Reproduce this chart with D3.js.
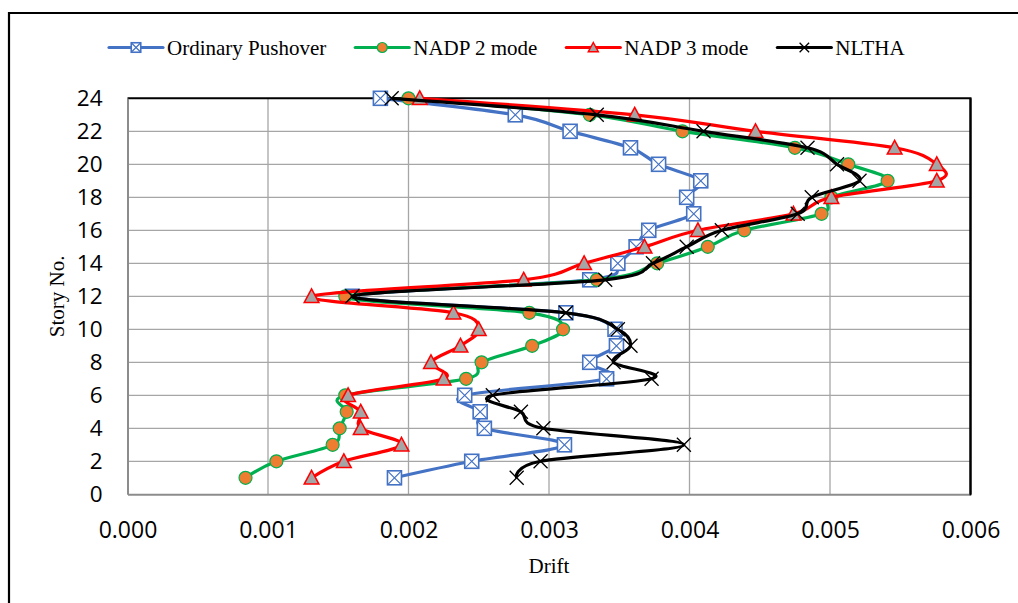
<!DOCTYPE html>
<html>
<head>
<meta charset="utf-8">
<script src="https://cdn.jsdelivr.net/npm/d3@7"></script>
<style>
  html, body { margin: 0; padding: 0; background: #fff; }
  svg { display: block; }
</style>
</head>
<body>
<svg id="chart" width="1018" height="603"></svg>
<script>
// Story numbers (1 to 24) and interstory drift for each analysis method
const stories = [1, 2, 3, 4, 5, 6, 7, 8, 9, 10, 11, 12, 13, 14, 15, 16, 17, 18, 19, 20, 21, 22, 23, 24];

const ordinaryPushover = [0.00190, 0.00245, 0.00311, 0.00254, 0.00251, 0.00240, 0.00341, 0.00329, 0.00348, 0.00347, 0.00312, 0.00160,
                          0.00329, 0.00349, 0.00362, 0.00371, 0.00403, 0.00398, 0.00408, 0.00378, 0.00358, 0.00315, 0.00276, 0.00180];

const nadp2Mode = [0.00084, 0.00106, 0.00146, 0.00151, 0.00156, 0.00155, 0.00241, 0.00252, 0.00288, 0.00310, 0.00286, 0.00155,
                   0.00334, 0.00377, 0.00413, 0.00439, 0.00494, 0.00501, 0.00541, 0.00513, 0.00475, 0.00395, 0.00329, 0.00200];

const nadp3Mode = [0.00131, 0.00154, 0.00195, 0.00166, 0.00166, 0.00157, 0.00225, 0.00216, 0.00237, 0.00250, 0.00232, 0.00131,
                   0.00282, 0.00325, 0.00368, 0.00406, 0.00474, 0.00501, 0.00576, 0.00576, 0.00546, 0.00447, 0.00361, 0.00208];

const nltha = [0.00277, 0.00294, 0.00396, 0.00296, 0.00280, 0.00260, 0.00373, 0.00346, 0.00358, 0.00349, 0.00312, 0.00160,
               0.00340, 0.00374, 0.00398, 0.00423, 0.00477, 0.00487, 0.00521, 0.00505, 0.00484, 0.00410, 0.00334, 0.00188];

const seriesNames = ["Ordinary Pushover", "NADP 2 mode", "NADP 3 mode", "NLTHA"];
const xTicks = [0, 0.001, 0.002, 0.003, 0.004, 0.005, 0.006];
const yTicks = [0, 2, 4, 6, 8, 10, 12, 14, 16, 18, 20, 22, 24];

// Visual style per series
const styles = [
  { line: "#4472C4", marker: "squareX" },
  { line: "#00B050", marker: "circle" },
  { line: "#FF0000", marker: "triangle" },
  { line: "#000000", marker: "cross" }
];

const series = [ordinaryPushover, nadp2Mode, nadp3Mode, nltha].map((vals, i) => ({
  name: seriesNames[i],
  style: styles[i],
  points: stories.map((s, j) => ({ story: s, drift: vals[j] }))
}));

const svg = d3.select("#chart");
const W = 1018, H = 603;
const plot = { left: 127.5, right: 970.5, top: 98.3, bottom: 494.3 };

const x = d3.scaleLinear().domain([0, 0.006]).range([plot.left, plot.right]);
const y = d3.scaleLinear().domain([0, 24]).range([plot.bottom, plot.top]);

// Outer chart frame (left and top edges)
svg.append("path")
  .attr("d", `M9,${H} V13 H${W}`)
  .attr("fill", "none").attr("stroke", "#000").attr("stroke-width", 2.2);

// Gridlines
const grid = svg.append("g");
grid.selectAll("line.h").data(yTicks.slice(1, -1)).join("line")
  .attr("x1", plot.left).attr("x2", plot.right)
  .attr("y1", d => y(d)).attr("y2", d => y(d))
  .attr("stroke", "#A6A6A6").attr("stroke-width", 1.3);
grid.selectAll("line.v").data(xTicks.slice(1, -1)).join("line")
  .attr("y1", plot.top).attr("y2", plot.bottom)
  .attr("x1", d => x(d)).attr("x2", d => x(d))
  .attr("stroke", "#A6A6A6").attr("stroke-width", 1.3);

// Plot area border: black top/right, grey axes left/bottom
svg.append("path")
  .attr("d", `M${plot.left},${plot.top} H${plot.right} V${plot.bottom}`)
  .attr("fill", "none").attr("stroke", "#000").attr("stroke-width", 2);

const tickFont = "'Open Sans', 'Noto Sans', sans-serif";

const yAxis = svg.append("g")
  .attr("transform", `translate(${plot.left},0)`)
  .call(d3.axisLeft(y).tickValues(yTicks).tickSize(0).tickPadding(25).tickFormat(d3.format("d")));
yAxis.select(".domain").attr("stroke", "#8C8C8C").attr("stroke-width", 2);
yAxis.selectAll("text").attr("font-family", tickFont).attr("font-size", 22.5).attr("fill", "#000");

const xAxis = svg.append("g")
  .attr("transform", `translate(0,${plot.bottom})`)
  .call(d3.axisBottom(x).tickValues(xTicks).tickSize(0).tickPadding(27).tickFormat(d3.format(".3f")));
xAxis.select(".domain").attr("stroke", "#8C8C8C").attr("stroke-width", 2);
xAxis.selectAll("text").attr("font-family", tickFont).attr("font-size", 23).attr("fill", "#000");

// Re-draw right/top border ends over the axis domain caps
svg.append("line")
  .attr("x1", plot.right).attr("x2", plot.right).attr("y1", plot.top).attr("y2", plot.bottom + 1)
  .attr("stroke", "#000").attr("stroke-width", 2);

// Axis titles
const serif = "'Liberation Serif', 'Times New Roman', serif";
svg.append("text")
  .attr("x", (plot.left + plot.right) / 2).attr("y", 573)
  .attr("text-anchor", "middle").attr("font-family", serif).attr("font-size", 21)
  .text("Drift");
svg.append("text")
  .attr("transform", `translate(64,${(plot.top + plot.bottom) / 2}) rotate(-90)`)
  .attr("text-anchor", "middle").attr("font-family", serif).attr("font-size", 21)
  .text("Story No.");

// Marker drawing
function drawMarker(g, type, size, color) {
  const h = size / 2;
  if (type === "squareX") {
    g.append("rect").attr("x", -h).attr("y", -h).attr("width", size).attr("height", size)
      .attr("fill", "#fff").attr("stroke", color).attr("stroke-width", 1.6);
    g.append("path").attr("d", `M${-h},${-h}L${h},${h}M${h},${-h}L${-h},${h}`)
      .attr("stroke", color).attr("stroke-width", 1.2).attr("fill", "none");
  } else if (type === "circle") {
    g.append("circle").attr("r", h).attr("fill", "#ED7D31").attr("stroke", color).attr("stroke-width", 1.2);
  } else if (type === "triangle") {
    const t = h * 1.05;
    g.append("path").attr("d", `M0,${-t}L${t},${t * 0.85}L${-t},${t * 0.85}Z`)
      .attr("fill", "#A5A5A5").attr("stroke", color).attr("stroke-width", 1.5);
  } else if (type === "cross") {
    g.append("path").attr("d", `M${-h},${-h}L${h},${h}M${h},${-h}L${-h},${h}`)
      .attr("stroke", color).attr("stroke-width", 1.3).attr("fill", "none");
  }
}

const line = d3.line()
  .x(d => x(d.drift))
  .y(d => y(d.story))
  .curve(d3.curveCardinal.tension(0));

const plotG = svg.append("g");
series.forEach(s => {
  const g = plotG.append("g");
  g.append("path").datum(s.points)
    .attr("d", line)
    .attr("fill", "none")
    .attr("stroke", s.style.line)
    .attr("stroke-width", 3.2)
    .attr("stroke-linejoin", "round");
  g.selectAll("g.m").data(s.points).join("g")
    .attr("transform", d => `translate(${x(d.drift)},${y(d.story)})`)
    .each(function () { drawMarker(d3.select(this), s.style.marker, s.style.marker === "circle" ? 13 : 14, s.style.line); });
});

// Legend
const legend = svg.append("g").attr("transform", "translate(0,47.5)");
let lx = 109;
series.forEach(s => {
  const item = legend.append("g");
  item.append("line").attr("x1", lx).attr("x2", lx + 54).attr("y1", 0).attr("y2", 0)
    .attr("stroke", s.style.line).attr("stroke-width", 3.2).attr("stroke-linecap", "round");
  const m = item.append("g").attr("transform", `translate(${lx + 27},0)`);
  drawMarker(m, s.style.marker, s.style.marker === "circle" ? 10 : 9.5, s.style.line);
  const t = item.append("text").attr("x", lx + 58).attr("y", 7)
    .attr("font-family", serif).attr("font-size", 21).text(s.name);
  lx = lx + 58 + t.node().getComputedTextLength() + 29;
});
</script>
</body>
</html>
